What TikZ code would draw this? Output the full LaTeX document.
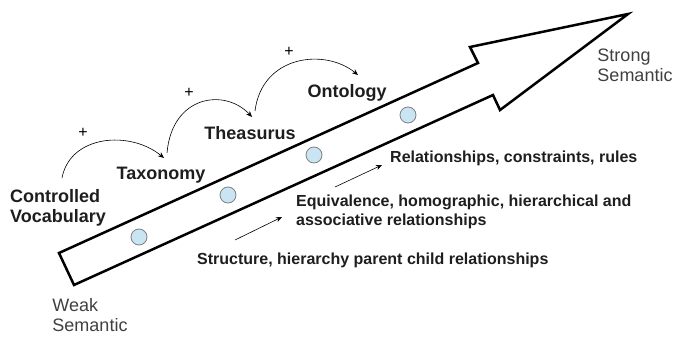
\documentclass[tikz,border=0pt]{standalone}
\usepackage{fontspec}
\setmainfont{Liberation Sans}
\usetikzlibrary{arrows.meta}
\definecolor{dotblue}{HTML}{C9E5F3}
\definecolor{ink}{HTML}{1E1E1E}
\tikzset{
  lbl/.style={font=\bfseries\fontsize{18}{20}\selectfont, text=ink, align=left, inner sep=0pt},
  desc/.style={font=\bfseries\fontsize{16}{19}\selectfont, text=ink, align=left, inner sep=0pt, anchor=west},
  sem/.style={font=\fontsize{18}{20}\selectfont, text=ink!85, align=left, inner sep=0pt},
  dot/.style={circle, draw=gray, thick, fill=dotblue, minimum size=16pt, inner sep=0pt},
  hop/.style={-{Stealth[length=6pt,width=5pt]}, semithick},
}
\begin{document}
\begin{tikzpicture}[x=1pt,y=-1pt]
  \useasboundingbox (0,0) rectangle (675,337);
  % the big arrow
  \draw[line width=2.5pt, line join=miter] (59,253) -- (478,63) -- (470,47) -- (628,14)
    -- (500,110) -- (493,95) -- (74,285) -- cycle;
  \foreach \x/\y/\n in {139/237/1, 228/195/2, 314/155/3, 408/115/4}
    \node[dot] (d\n) at (\x,\y) {};
  % stages
  \node[lbl] (vocab) at (58,208) {Controlled\\Vocabulary};
  \node[lbl] (tax) at (161,175) {Taxonomy};
  \node[lbl] (thes) at (250,133) {Theasurus};
  \node[lbl] (onto) at (347,93) {Ontology};
  \node[sem] (strong) at (635,65) {Strong\\Semantic};
  \node[sem] (weak) at (90,315) {Weak\\Semantic};
  % descriptions
  \node[desc] (rules) at (390,158) {Relationships, constraints, rules};
  \node[desc] (equiv) at (296,212) {Equivalence, homographic, hierarchical and\\associative relationships};
  \node[desc] (struct) at (197,260) {Structure, hierarchy parent child relationships};
  \coordinate (s1) at (235,240); \coordinate (e1) at (282,217);
  \coordinate (s2) at (335,187); \coordinate (e2) at (382,165);
  \draw[hop] (s1) -- (e1);
  \draw[hop] (s2) -- (e2);
  % hops between stages
  \coordinate (h1) at (62,178);  \coordinate (h2) at (164,158);
  \coordinate (h3) at (167,153); \coordinate (h4) at (252,117);
  \coordinate (h5) at (255,111); \coordinate (h6) at (358,75);
  \draw[hop] (h1) .. controls (70,135) and (130,130) .. (h2);
  \draw[hop] (h3) .. controls (172,95) and (225,88) .. (h4);
  \draw[hop] (h5) .. controls (262,55) and (325,48) .. (h6);
  \foreach \x/\y/\n in {83/133/1, 189/93/2, 289/52/3}
    \node[font=\fontsize{16}{16}\selectfont] (p\n) at (\x,\y) {+};
\end{tikzpicture}
\end{document}
